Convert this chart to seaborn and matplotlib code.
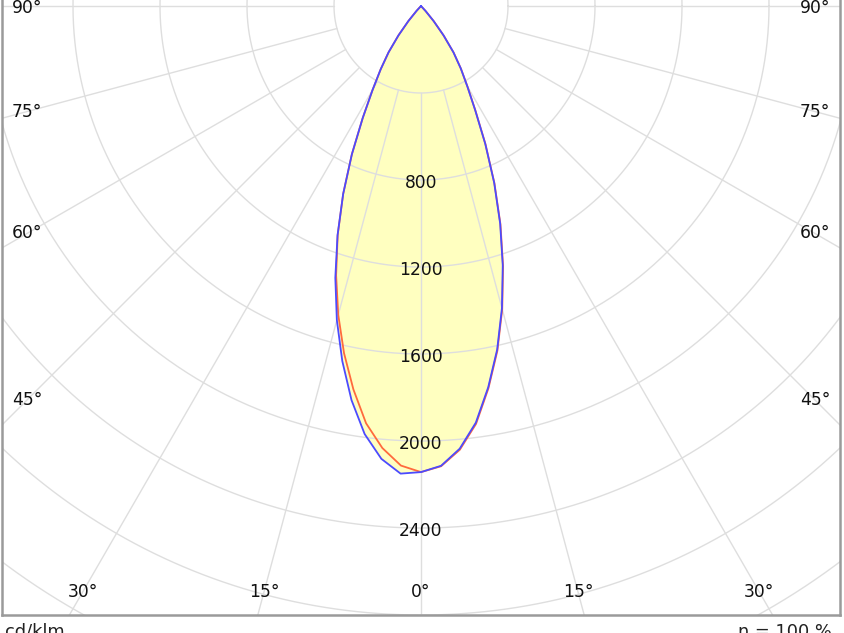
import numpy as np
import pandas as pd
import matplotlib
matplotlib.use("Agg")
import matplotlib.pyplot as plt
import seaborn as sns

# ---- data (cd/klm vs gamma angle) ----
gamma = [0, 2.5, 5, 7.5, 10, 12.5, 15, 17.5, 20, 22.5, 25, 27.5, 30, 32.5, 35, 37.5, 40, 42.5, 45]
c0_right = [2143, 2118, 2048, 1938, 1785, 1623, 1443, 1255, 1068, 882, 702, 542, 427, 342, 262, 172, 92, 32, 0]
c90_right = [2143, 2116, 2043, 1932, 1780, 1618, 1438, 1250, 1064, 879, 699, 539, 425, 340, 260, 170, 90, 30, 0]
c180_left = [2143, 2115, 2040, 1935, 1790, 1635, 1470, 1298, 1120, 935, 752, 580, 445, 345, 260, 170, 90, 30, 0]
c270_left = [2143, 2152, 2090, 1985, 1840, 1672, 1495, 1310, 1122, 935, 752, 580, 445, 345, 260, 170, 90, 30, 0]

ring_values = [400, 800, 1200, 1600, 2000, 2400, 2800, 3200]
ring_labels = ["800", "1200", "1600", "2000", "2400"]
side_angles = [90, 75, 60, 45]
bottom_angles = [-30, -15, 0, 15, 30]
unit_label = "cd/klm"
eta_label = "η = 100 %"

# ---- figure geometry ----
W, H = 844, 633
S = 400 / 87.0          # data units per pixel
cx_px, cy_px = 421, 6   # pole position in pixels
ax_l, ax_r, ax_t, ax_b = 2, 840, 0, 615

sns.set_theme(style="white")
plt.rcParams['font.family'] = ['DejaVu Sans']
fig = plt.figure(figsize=(W / 100, H / 100), dpi=100)
ax = fig.add_axes([ax_l / W, (H - ax_b) / H, (ax_r - ax_l) / W, (ax_b - ax_t) / H])
ax.set_xlim((ax_l - cx_px) * S, (ax_r - cx_px) * S)
ax.set_ylim(-(ax_b - cy_px) * S, (cy_px - ax_t) * S)
ax.set_xticks([])
ax.set_yticks([])
for side in ["left", "bottom", "right"]:
    ax.spines[side].set_color("#9a9a9a")
    ax.spines[side].set_linewidth(1.8)
ax.spines["top"].set_visible(False)

grid_c = "#dedede"
# rings
t = np.linspace(0, 2 * np.pi, 721)
for rv in ring_values:
    ax.plot(rv * np.cos(t), rv * np.sin(t), color=grid_c, lw=1.0, zorder=2)
# spokes every 15 degrees, starting at r=400
for a in range(0, 360, 15):
    ar = np.radians(a)
    ax.plot([400 * np.sin(ar), 5000 * np.sin(ar)], [-400 * np.cos(ar), -5000 * np.cos(ar)],
            color=grid_c, lw=1.0, zorder=2)


def loop(left, right):
    g = np.radians(np.array(gamma))
    gl = g[::-1]
    rl = np.array(left)[::-1]
    rr = np.array(right)
    xs = np.concatenate([-rl * np.sin(gl), rr * np.sin(g)])
    ys = np.concatenate([-rl * np.cos(gl), -rr * np.cos(g)])
    return xs, ys


xo, yo = loop(c180_left, c0_right)
xb, yb = loop(c270_left, c90_right)

fill_c = "#ffffc0"
ax.fill(xb, yb, color=fill_c, zorder=1, lw=0)
ax.fill(xo, yo, color=fill_c, zorder=1, lw=0)

df_o = pd.DataFrame({"x": xo, "y": yo})
df_b = pd.DataFrame({"x": xb, "y": yb})
sns.lineplot(data=df_o, x="x", y="y", sort=False, estimator=None, color="#ff6a3d", lw=1.3, ax=ax, zorder=4)
sns.lineplot(data=df_b, x="x", y="y", sort=False, estimator=None, color="#4b4bff", lw=1.3, ax=ax, zorder=5)
ax.set_xlabel("")
ax.set_ylabel("")

fs = 12.3
# ring labels
for lab in ring_labels:
    rv = float(lab)
    ax.text(0, -rv - 3 * S, lab, ha="center", va="center", fontsize=fs, color="#111111", zorder=6)

# side angle labels
lx = (27 - cx_px) * S
for a in side_angles:
    ar = np.radians(a)
    yv = -abs(lx) / np.tan(ar) if a != 90 else -2 * S
    ax.text(lx, yv, f"{a}°", ha="center", va="center", fontsize=fs, color="#111111", zorder=6)
    ax.text(-lx, yv, f"{a}°", ha="center", va="center", fontsize=fs, color="#111111", zorder=6)

# bottom angle labels
by = -(592 - cy_px) * S
for a in bottom_angles:
    xv = abs(by) * np.tan(np.radians(a))
    ax.text(xv, by, f"{abs(a)}°", ha="center", va="center", fontsize=fs, color="#111111", zorder=6)

fig.text(5 / W, (H - 623) / H, unit_label, ha="left", va="top", fontsize=fs + 0.5, color="#222222")
fig.text(832 / W, (H - 623) / H, eta_label, ha="right", va="top", fontsize=fs + 0.5, color="#222222")

fig.savefig("out.png", dpi=100)
